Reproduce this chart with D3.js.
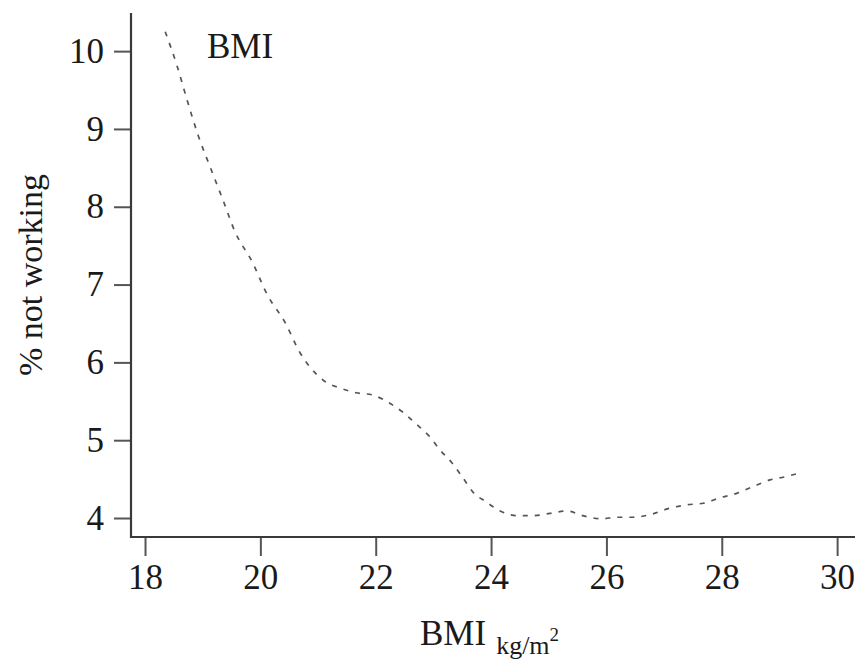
<!DOCTYPE html>
<html>
<head>
<meta charset="utf-8">
<script src="https://cdn.jsdelivr.net/npm/d3@7"></script>
<style>
  html, body { margin: 0; padding: 0; background: #fff; }
  svg { display: block; }
  text { font-family: "Times New Roman", "Liberation Serif", "DejaVu Serif", serif; fill: #1a1a1a; }
</style>
</head>
<body>
<svg id="chart" width="855" height="661"></svg>
<script>
// ---- data ----
const bmiValues = [18.35, 18.56, 18.73, 18.92, 19.13, 19.35, 19.56, 19.86, 20.12, 20.43, 20.69, 20.86, 21.09, 21.38, 21.66, 21.95, 22.23, 22.47, 22.70, 22.93, 23.12, 23.32, 23.50, 23.69, 23.91, 24.16, 24.47, 24.73, 25.02, 25.32, 25.59, 25.92, 26.18, 26.46, 26.79, 27.07, 27.40, 27.68, 27.97, 28.27, 28.53, 28.84, 29.10, 29.40];
const pctNotWorking = [10.25, 9.80, 9.37, 8.92, 8.51, 8.09, 7.68, 7.29, 6.87, 6.51, 6.12, 5.94, 5.77, 5.67, 5.61, 5.58, 5.48, 5.36, 5.21, 5.05, 4.87, 4.71, 4.53, 4.33, 4.21, 4.09, 4.03, 4.03, 4.06, 4.09, 4.03, 3.99, 4.01, 4.01, 4.05, 4.12, 4.17, 4.19, 4.26, 4.32, 4.40, 4.49, 4.53, 4.59];
const xTicks = [18, 20, 22, 24, 26, 28, 30];
const yTicks = [4, 5, 6, 7, 8, 9, 10];
const panelTitle = "BMI";
const yLabel = "% not working";
const xLabelMain = "BMI";
const xLabelSub = "kg/m";
const xLabelSup = "2";

// ---- layout ----
const svg = d3.select("#chart");
const mLeft = 131, mRight = 855, mTop = 13, mBottom = 537;

const x = d3.scaleLinear().domain([17.757, 30.31]).range([mLeft, mRight]);
const y = d3.scaleLinear().domain([3.756, 10.49]).range([mBottom, mTop]);

const axisColor = "#3a3a3a";

// y axis
const yAxis = svg.append("g").attr("transform", `translate(${mLeft},0)`)
  .call(d3.axisLeft(y).tickValues(yTicks).tickSize(17).tickPadding(10).tickFormat(d3.format("d")));
yAxis.select(".domain").remove();
yAxis.selectAll(".tick line").attr("stroke", "#555").attr("stroke-width", 2);
yAxis.selectAll(".tick text").attr("font-size", 35).attr("fill", "#222");

// x axis
const xAxis = svg.append("g").attr("transform", `translate(0,${mBottom})`)
  .call(d3.axisBottom(x).tickValues(xTicks).tickSize(19).tickPadding(8).tickFormat(d3.format("d")));
xAxis.select(".domain").remove();
xAxis.selectAll(".tick line").attr("stroke", "#555").attr("stroke-width", 2);
xAxis.selectAll(".tick text").attr("font-size", 35).attr("fill", "#222");

// d3 axis sets font-family on the group; clear so CSS serif applies
yAxis.attr("font-family", null);
xAxis.attr("font-family", null);

// axis lines
svg.append("line").attr("x1", mLeft).attr("x2", mLeft).attr("y1", mTop).attr("y2", mBottom + 1)
  .attr("stroke", axisColor).attr("stroke-width", 2.2);
svg.append("line").attr("x1", mLeft).attr("x2", mRight).attr("y1", mBottom).attr("y2", mBottom)
  .attr("stroke", axisColor).attr("stroke-width", 2.2);

// curve
const pts = bmiValues.map((b, i) => [b, pctNotWorking[i]]);
const line = d3.line().x(d => x(d[0])).y(d => y(d[1])).curve(d3.curveMonotoneX);
svg.append("path").attr("d", line(pts))
  .attr("fill", "none").attr("stroke", "#555").attr("stroke-width", 1.7)
  .attr("stroke-dasharray", "5,7");

// panel title
svg.append("text").attr("x", 207).attr("y", 58).attr("font-size", 35).text(panelTitle);

// y label
svg.append("text").attr("transform", "translate(42,275) rotate(-90)")
  .attr("text-anchor", "middle").attr("font-size", 34).text(yLabel);

// x label
const xl = svg.append("text").attr("x", 420).attr("y", 645).attr("font-size", 35);
xl.append("tspan").text(xLabelMain);
xl.append("tspan").attr("font-size", 26).attr("dx", 10).attr("dy", 9).text(xLabelSub);
xl.append("tspan").attr("font-size", 19).attr("dy", -13).text(xLabelSup);
</script>
</body>
</html>
